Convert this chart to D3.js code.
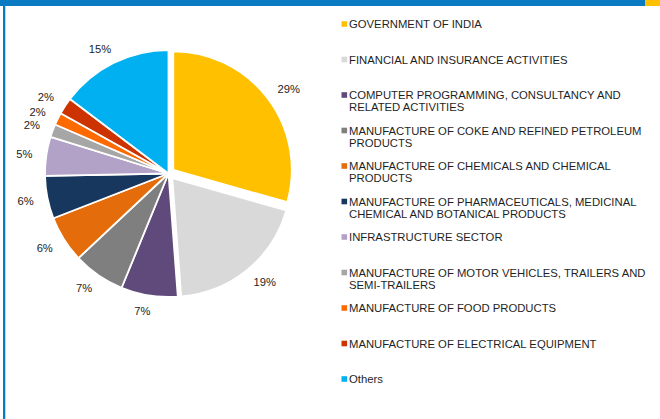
<!DOCTYPE html>
<html>
<head>
<meta charset="utf-8">
<script src="https://cdn.jsdelivr.net/npm/d3@7/dist/d3.min.js"></script>
<style>
  html, body { margin: 0; padding: 0; background: #ffffff; }
  svg { display: block; }
  text { font-family: "Liberation Sans", Arial, sans-serif; }
</style>
</head>
<body>
<svg id="chart" width="660" height="419"></svg>
<script>
// Sector shares (%) — pie runs clockwise from 12 o'clock
const categories = [
  "GOVERNMENT OF INDIA",
  "FINANCIAL AND INSURANCE ACTIVITIES",
  "COMPUTER PROGRAMMING, CONSULTANCY AND RELATED ACTIVITIES",
  "MANUFACTURE OF COKE AND REFINED PETROLEUM PRODUCTS",
  "MANUFACTURE OF CHEMICALS AND CHEMICAL PRODUCTS",
  "MANUFACTURE OF PHARMACEUTICALS, MEDICINAL CHEMICAL AND BOTANICAL PRODUCTS",
  "INFRASTRUCTURE SECTOR",
  "MANUFACTURE OF MOTOR VEHICLES, TRAILERS AND SEMI-TRAILERS",
  "MANUFACTURE OF FOOD PRODUCTS",
  "MANUFACTURE OF ELECTRICAL EQUIPMENT",
  "Others"
];
const shares = [29.4, 19.4, 7.4, 6.8, 6.1, 5.6, 5.1, 1.7, 1.6, 2.2, 14.7];
const palette = [
  "#FFC000", "#D9D9D9", "#604A7B", "#7F7F7F", "#E46C0A", "#17375E",
  "#B3A2C7", "#A6A6A6", "#FF6A00", "#CC3300", "#00B0F0"
];
// slices pulled out from the centre
const pulledOut = new Set(["GOVERNMENT OF INDIA", "FINANCIAL AND INSURANCE ACTIVITIES"]);

const data = categories.map((c, i) => ({ name: c, value: shares[i], color: palette[i] }));

const svg = d3.select("#chart");
const W = 660, H = 419;

// frame: top band, corner accent and left rule
svg.append("rect").attr("x", 0).attr("y", 0).attr("width", W).attr("height", H).attr("fill", "#ffffff");
svg.append("rect").attr("x", 0).attr("y", 0).attr("width", 645).attr("height", 6).attr("fill", "#0A7BC2");
svg.append("rect").attr("x", 645).attr("y", 0).attr("width", 15).attr("height", 6).attr("fill", "#FFC000");
svg.append("rect").attr("x", 3).attr("y", 0).attr("width", 2.3).attr("height", H).attr("fill", "#0A7BC2");

// pie
const cx = 168.5, cy = 173.5, R = 123.5, pull = 6, shrink = 5;
const pie = d3.pie().sort(null).value(d => d.value).startAngle(0).endAngle(2 * Math.PI);
const arcs = pie(data);
const arcGen = d3.arc().innerRadius(0);

const mid = d => (d.startAngle + d.endAngle) / 2;
const isOut = d => pulledOut.has(d.data.name);
const offset = d => isOut(d) ? [Math.sin(mid(d)) * pull, -Math.cos(mid(d)) * pull] : [0, 0];
const radius = d => isOut(d) ? R - shrink : R;

const pieG = svg.append("g").attr("transform", `translate(${cx},${cy})`);

pieG.selectAll("path.slice")
  .data(arcs)
  .join("path")
  .attr("class", "slice")
  .attr("fill", d => d.data.color)
  .attr("stroke", "#ffffff")
  .attr("stroke-width", 1.8)
  .attr("stroke-linejoin", "round")
  .attr("transform", d => `translate(${offset(d)[0]},${offset(d)[1]})`)
  .attr("d", d => arcGen.outerRadius(radius(d))(d));

// percentage labels just outside each slice's rim
const fmtPct = v => Math.round(v) + "%";
const gap = 10, boxH = 12, sidePush = 4;
pieG.selectAll("text.pct")
  .data(arcs)
  .join("text")
  .attr("class", "pct")
  .attr("text-anchor", "middle")
  .attr("dominant-baseline", "central")
  .attr("font-size", 11.2)
  .attr("fill", "#222222")
  .text(d => fmtPct(d.data.value))
  .each(function (d) {
    const a = mid(d), s = Math.sin(a), c = Math.cos(a);
    const w = this.getComputedTextLength();
    const [ox, oy] = offset(d);
    const r = radius(d) + gap;
    const x = ox + s * r + s * w / 2 + Math.sign(s) * sidePush;
    const y = oy - c * r - c * boxH / 2;
    d3.select(this).attr("x", x).attr("y", y);
  });

// legend
const legendY = d3.scaleLinear().domain([0, categories.length - 1]).range([24, 379]);
const legendX = 341.5, textX = 349, wrapWidth = 305, lineH = 12.3, fs = 11.3;

const items = svg.append("g").selectAll("g.item")
  .data(data)
  .join("g")
  .attr("class", "item")
  .attr("transform", (d, i) => `translate(0,${legendY(i)})`);

items.append("rect")
  .attr("x", legendX)
  .attr("y", -2.8)
  .attr("width", 5.6)
  .attr("height", 5.6)
  .attr("fill", d => d.color);

items.each(function (d) {
  const g = d3.select(this);
  const t = g.append("text")
    .attr("x", textX)
    .attr("y", 0)
    .attr("font-size", fs)
    .attr("fill", "#1f1f1f")
    .attr("dominant-baseline", "central");
  const words = d.name.split(" ");
  let line = [];
  let lineNo = 0;
  let tspan = t.append("tspan").attr("x", textX).attr("y", 0);
  words.forEach(w => {
    line.push(w);
    tspan.text(line.join(" "));
    if (tspan.node().getComputedTextLength() > wrapWidth && line.length > 1) {
      line.pop();
      tspan.text(line.join(" "));
      line = [w];
      lineNo += 1;
      tspan = t.append("tspan").attr("x", textX).attr("y", lineNo * lineH).text(w);
    }
  });
});
</script>
</body>
</html>
